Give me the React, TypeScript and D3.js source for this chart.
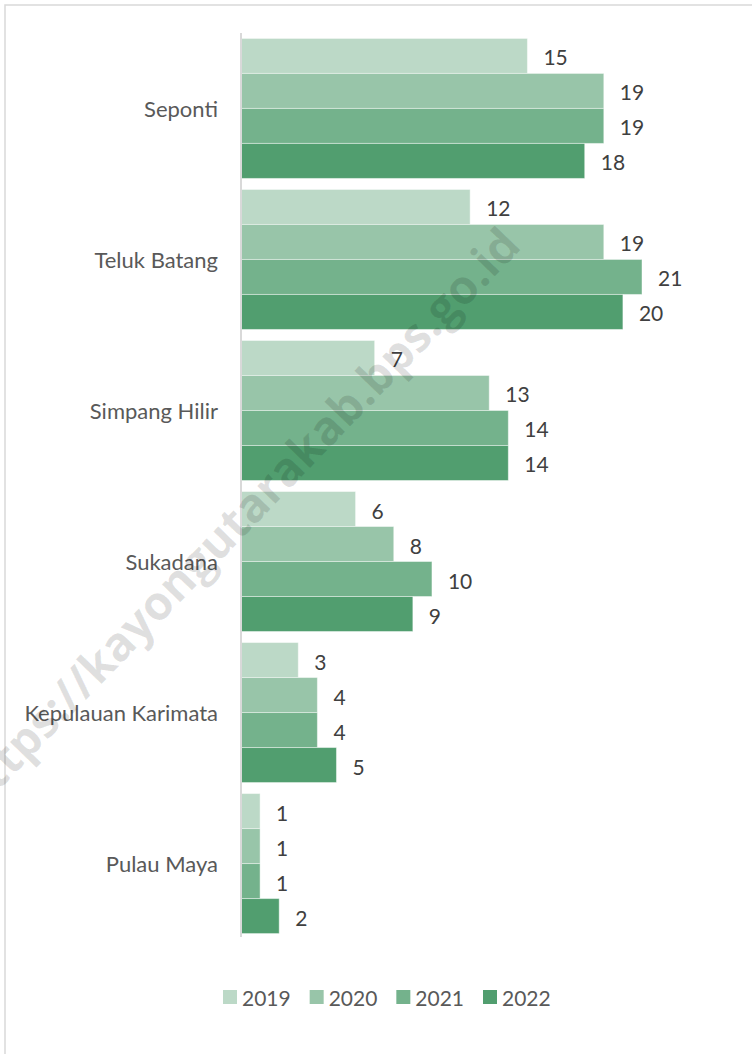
import * as d3 from 'd3'

const categories = ['Seponti', 'Teluk Batang', 'Simpang Hilir', 'Sukadana', 'Kepulauan Karimata', 'Pulau Maya']
const years = ['2019', '2020', '2021', '2022']
const values2019 = [15, 12, 7, 6, 3, 1]
const values2020 = [19, 19, 13, 8, 4, 1]
const values2021 = [19, 21, 14, 10, 4, 1]
const values2022 = [18, 20, 14, 9, 5, 2]
const colors = ['#bcd9c7', '#98c5a9', '#74b28c', '#519e6f']

const series = [values2019, values2020, values2021, values2022]

export default function App() {
  const width = 752
  const height = 1054
  const font = 'Lato, "Open Sans", sans-serif'

  // scales
  const x = d3.scaleLinear().domain([0, 21]).range([241, 642])
  const y = d3.scaleBand().domain(categories).range([33, 939]).paddingInner(0.073).paddingOuter(0.036)
  const ySub = d3.scaleBand().domain(years).range([0, y.bandwidth()])

  const legendX = d3.scalePoint().domain(years).range([223, 483])

  return (
    <svg width={width} height={height} style={{ position: 'absolute', left: 0, top: 0 }} fontFamily={font}>
      <rect x={0} y={0} width={width} height={height} fill="#fff" />
      {/* chart frame (only top/left visible) */}
      <rect x={5} y={5} width={width + 20} height={height + 20} fill="none" stroke="#d9d9d9" strokeWidth={1.5} />

      {categories.map((c, i) => (
        <g key={c}>
          <text x={218} y={y(c)! + y.bandwidth() / 2} textAnchor="end" dominantBaseline="central"
            fontSize={22} fill="#595959">{c}</text>
          {years.map((yr, j) => {
            const v = series[j][i]
            const by = y(c)! + ySub(yr)!
            return (
              <g key={yr}>
                <rect x={x(0)} y={by} width={x(v) - x(0)} height={ySub.bandwidth()}
                  fill={colors[j]} stroke="#ffffff" strokeOpacity={0.45} strokeWidth={1} />
                <text x={x(v) + 16} y={by + ySub.bandwidth() / 2 + 1} dominantBaseline="central"
                  fontSize={21} fill="#404040">{v}</text>
              </g>
            )
          })}
        </g>
      ))}

      {/* vertical axis line */}
      <line x1={241} x2={241} y1={33} y2={937} stroke="#d9d9d9" strokeWidth={2} />

      {/* legend */}
      {years.map((yr, j) => (
        <g key={yr} transform={`translate(${legendX(yr)},997)`}>
          <rect x={0} y={-7} width={14} height={14} fill={colors[j]} />
          <text x={19} y={0} dominantBaseline="central" fontSize={21} fill="#595959">{yr}</text>
        </g>
      ))}

      {/* watermark */}
      <text x={0} y={0} transform="translate(-24,814) rotate(-46)" fontSize={47} fontWeight="bold"
        fill="#000" fillOpacity={0.12} fontFamily='"Open Sans", sans-serif'>https://kayongutarakab.bps.go.id</text>
    </svg>
  )
}
